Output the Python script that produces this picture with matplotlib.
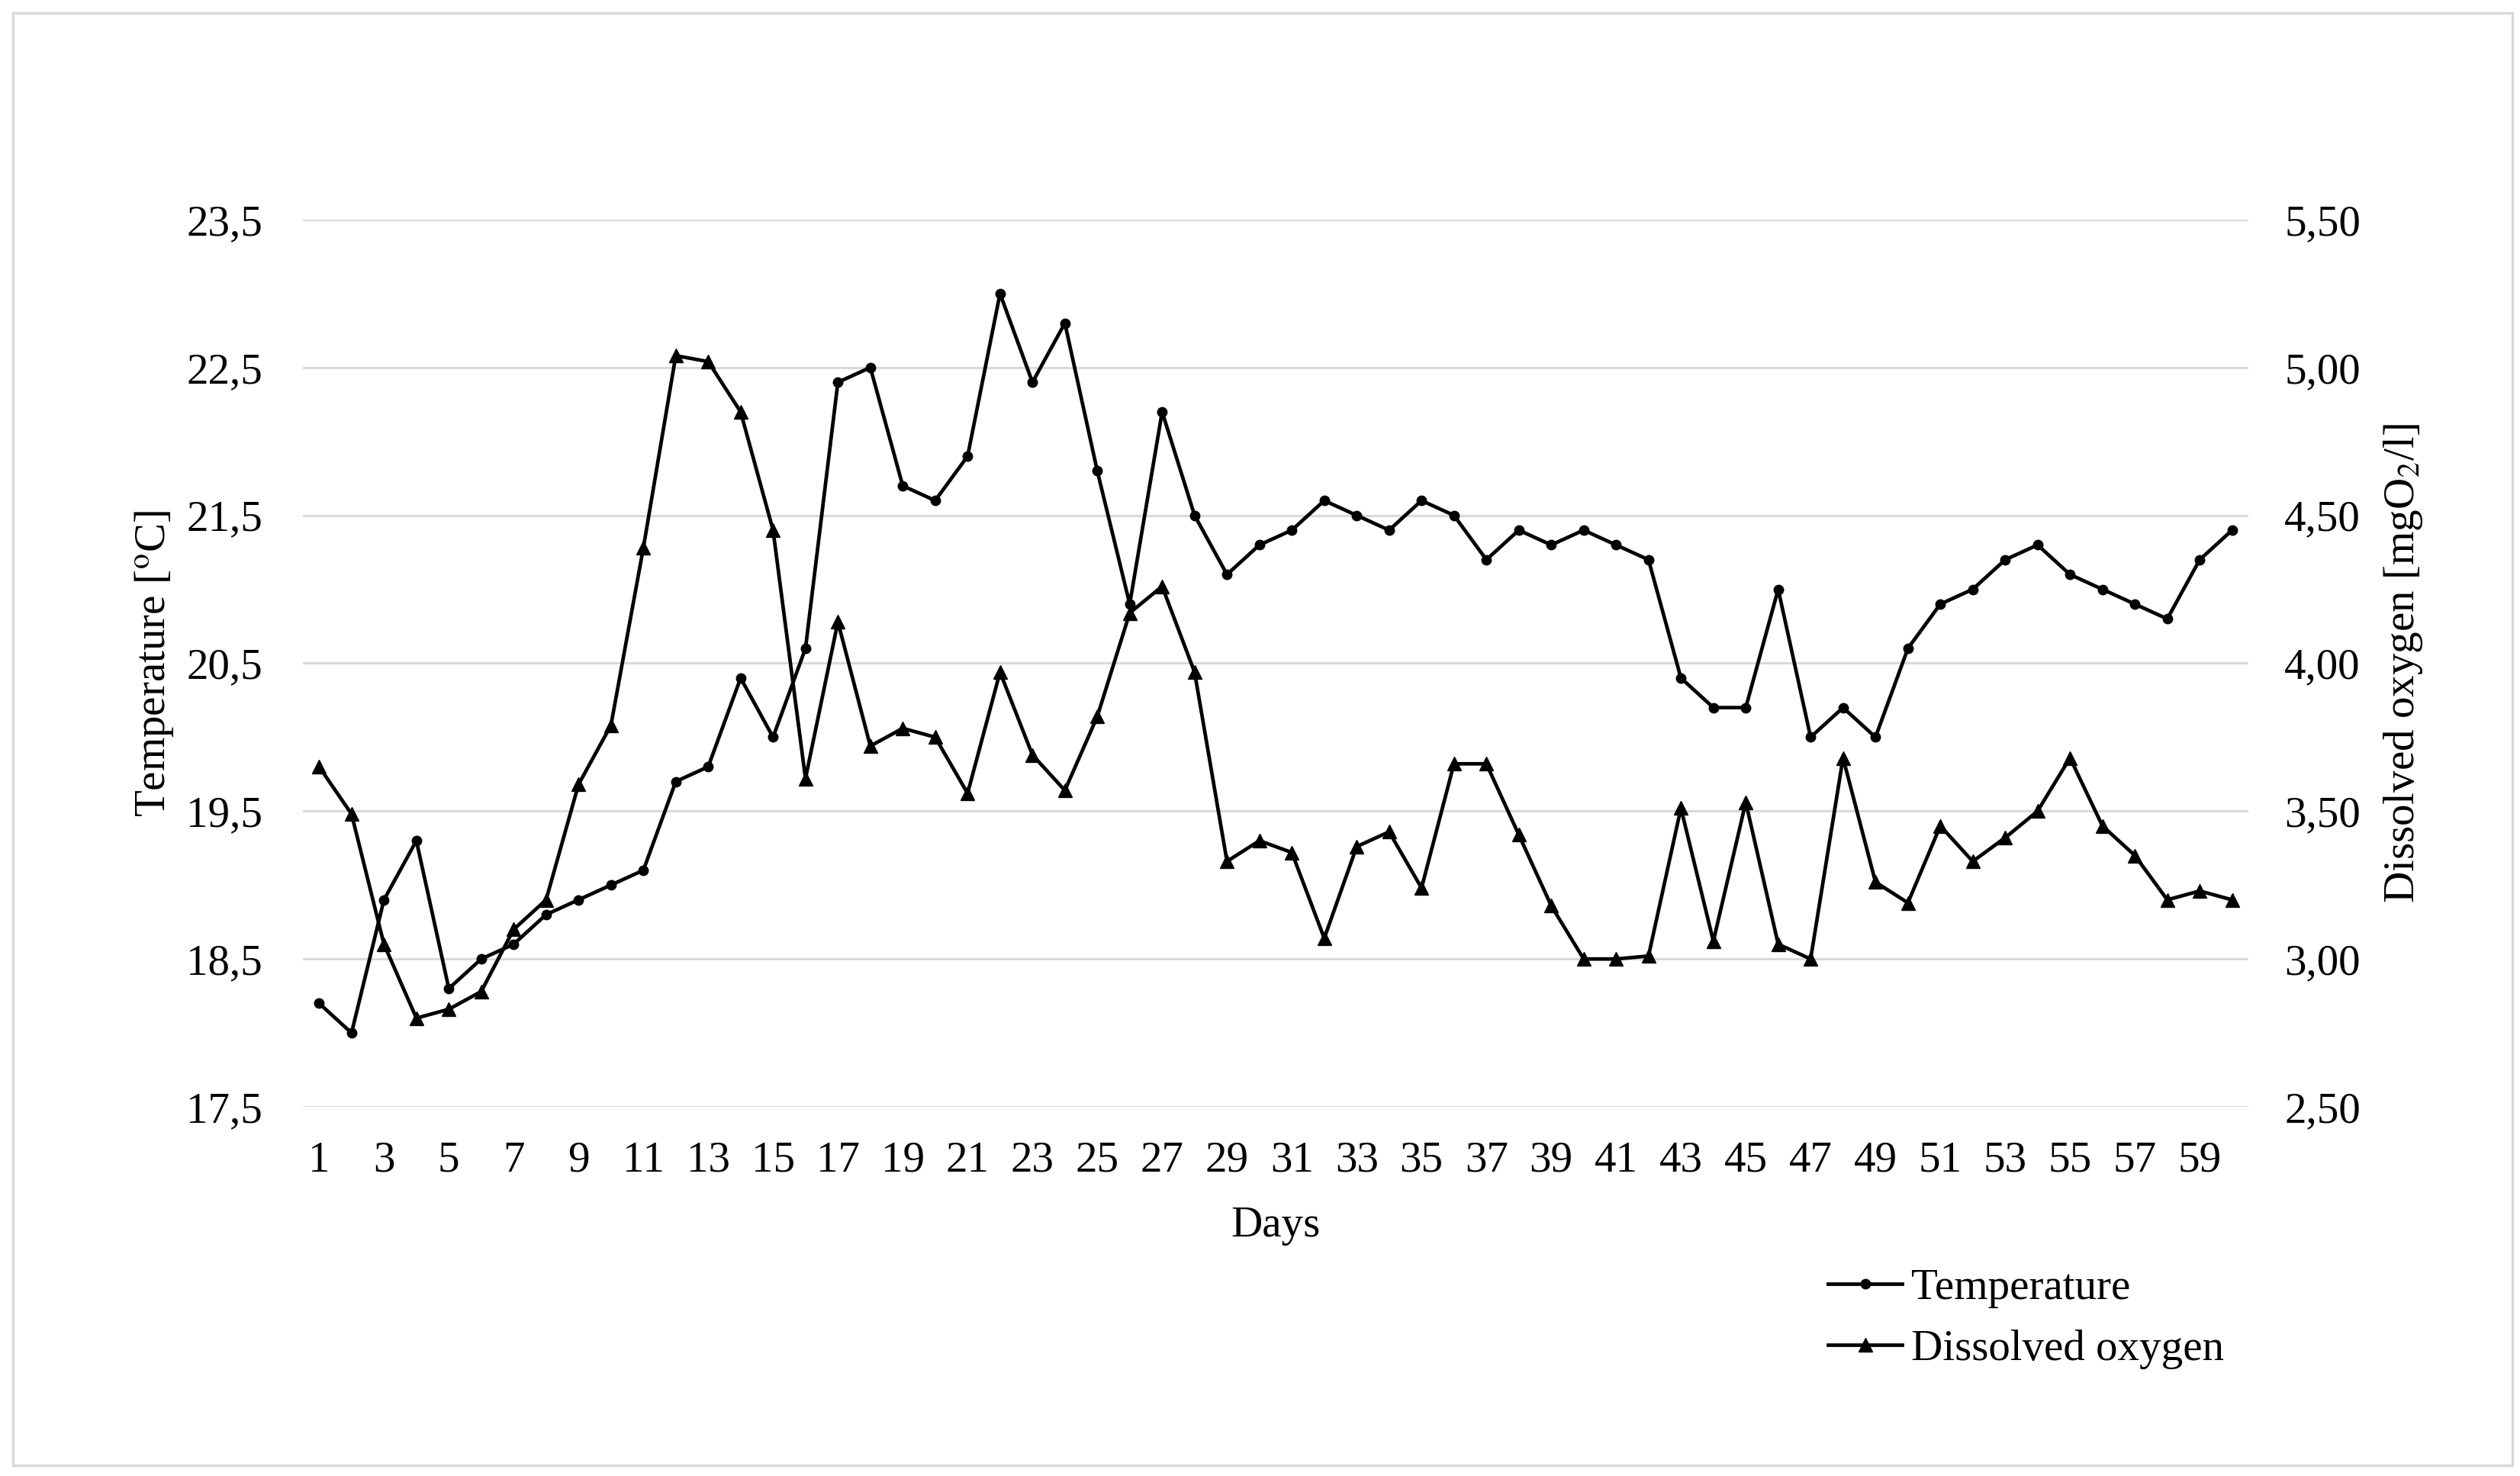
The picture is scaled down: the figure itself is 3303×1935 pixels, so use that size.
import matplotlib
matplotlib.use("Agg")
import matplotlib.pyplot as plt
from matplotlib.patches import Rectangle

days = list(range(1, 61))

temperature = [
    18.2, 18.0, 18.9, 19.3, 18.3, 18.5, 18.6, 18.8, 18.9, 19.0,
    19.1, 19.7, 19.8, 20.4, 20.0, 20.6, 22.4, 22.5, 21.7, 21.6,
    21.9, 23.0, 22.4, 22.8, 21.8, 20.9, 22.2, 21.5, 21.1, 21.3,
    21.4, 21.6, 21.5, 21.4, 21.6, 21.5, 21.2, 21.4, 21.3, 21.4,
    21.3, 21.2, 20.4, 20.2, 20.2, 21.0, 20.0, 20.2, 20.0, 20.6,
    20.9, 21.0, 21.2, 21.3, 21.1, 21.0, 20.9, 20.8, 21.2, 21.4,
]

dissolved_oxygen = [
    3.65, 3.49, 3.05, 2.80, 2.83, 2.89, 3.10, 3.20, 3.59, 3.79,
    4.39, 5.04, 5.02, 4.85, 4.45, 3.61, 4.14, 3.72, 3.78, 3.75,
    3.56, 3.97, 3.69, 3.57, 3.82, 4.17, 4.26, 3.97, 3.33, 3.40,
    3.36, 3.07, 3.38, 3.43, 3.24, 3.66, 3.66, 3.42, 3.18, 3.00,
    3.00, 3.01, 3.51, 3.06, 3.53, 3.05, 3.00, 3.68, 3.26, 3.19,
    3.45, 3.33, 3.41, 3.50, 3.68, 3.45, 3.35, 3.20, 3.23, 3.20,
]

temp_ticks = [17.5, 18.5, 19.5, 20.5, 21.5, 22.5, 23.5]
do_ticks = [2.5, 3.0, 3.5, 4.0, 4.5, 5.0, 5.5]

plt.rcParams["font.family"] = ["Liberation Serif", "DejaVu Serif"]
plt.rcParams["mathtext.fontset"] = "stix"
FS = 41

fig = plt.figure(figsize=(33.03, 19.35), dpi=100)
ax = fig.add_axes([0.1202, 0.2501, 0.772, 0.6011])
ax2 = ax.twinx()

for y in temp_ticks:
    ax.axhline(y, color="#d9d9d9", lw=2.2, zorder=0)

l1, = ax.plot(days, temperature, color="black", lw=3.4, marker="o", ms=9,
              label="Temperature", zorder=3)
l2, = ax2.plot(days, dissolved_oxygen, color="black", lw=3.4, marker="^", ms=13,
               label="Dissolved oxygen", zorder=3)

ax.set_xlim(0.5, 60.5)
ax.set_ylim(17.5, 23.5)
ax2.set_ylim(2.5, 5.5)
ax.set_xticks(days[::2])
ax.set_yticks(temp_ticks)
ax.set_yticklabels([f"{v:.1f}".replace(".", ",") for v in temp_ticks])
ax2.set_yticks(do_ticks)
ax2.set_yticklabels([f"{v:.2f}".replace(".", ",") for v in do_ticks])

for a in (ax, ax2):
    for s in a.spines.values():
        s.set_visible(False)
    a.tick_params(length=0, labelsize=FS)
ax.tick_params(axis="y", pad=38)
ax.tick_params(axis="x", pad=32)
ax2.tick_params(axis="y", pad=34)

ax.set_xlabel("Days", fontsize=FS, labelpad=24)
ax.set_ylabel(r"Temperature [$^{\mathrm{o}}$C]", fontsize=FS, labelpad=10)
ax2.set_ylabel(r"Dissolved oxygen [mgO$_{2}$/l]", fontsize=FS, labelpad=20)

fig.legend(handles=[l1, l2], loc="upper left", bbox_to_anchor=(0.7255, 0.1406),
           frameon=False, fontsize=FS, handlelength=1.7, handletextpad=0.2,
           labelspacing=0.5, borderpad=0, borderaxespad=0)

fig.patches.append(Rectangle((0.005, 0.0072), 0.992, 0.984, transform=fig.transFigure,
                             fill=False, edgecolor="#d9d9d9", lw=2.5))

fig.savefig("out.png", dpi=100)
